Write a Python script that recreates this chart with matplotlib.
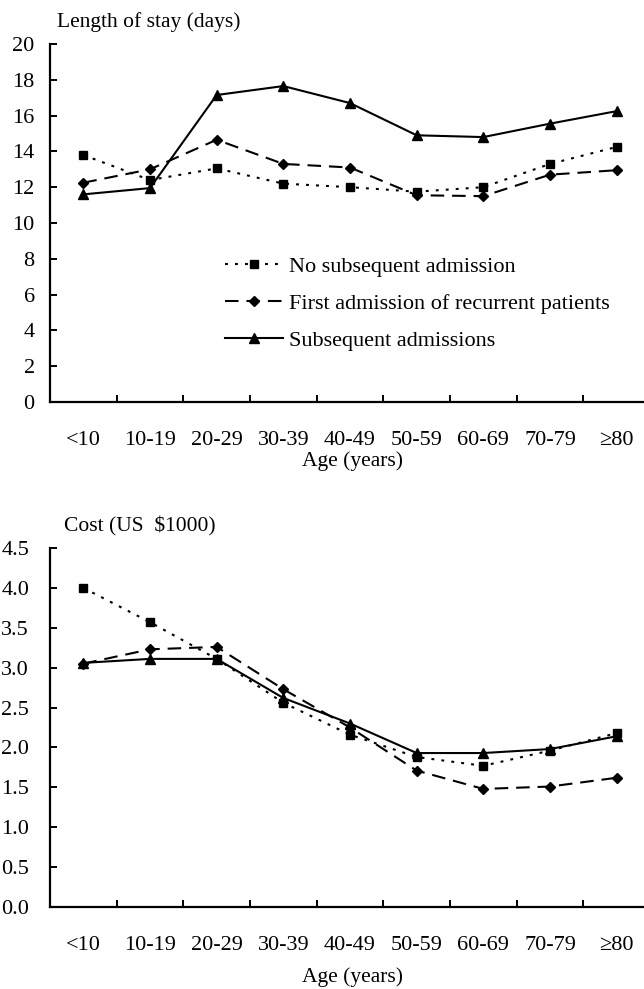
import matplotlib
matplotlib.use("Agg")
from matplotlib import pyplot as plt

plt.rcParams['font.family'] = ['Liberation Serif', 'DejaVu Serif']

ages = ["<10", "10-19", "20-29", "30-39", "40-49", "50-59", "60-69", "70-79", "\u226580"]
series_names = ["No subsequent admission",
                "First admission of recurrent patients",
                "Subsequent admissions"]

# length of stay (days)
stay_none = [13.8, 12.4, 13.05, 12.2, 12.0, 11.75, 12.0, 13.3, 14.25]
stay_first = [12.25, 13.0, 14.65, 13.3, 13.1, 11.55, 11.5, 12.7, 12.95]
stay_subseq = [11.6, 11.95, 17.15, 17.65, 16.7, 14.9, 14.8, 15.55, 16.25]

# cost (US $1000)
cost_none = [4.0, 3.57, 3.11, 2.56, 2.16, 1.88, 1.77, 1.96, 2.18]
cost_first = [3.05, 3.23, 3.26, 2.73, 2.25, 1.71, 1.48, 1.51, 1.62]
cost_subseq = [3.06, 3.11, 3.11, 2.62, 2.30, 1.93, 1.93, 1.98, 2.14]

W, H = 644, 989
fig = plt.figure(figsize=(W / 100, H / 100), dpi=100)

styles = [
    dict(linestyle=(0, (1.4, 3.4)), marker="s", markersize=6),
    dict(linestyle=(0, (6.5, 3.8)), marker="D", markersize=5.5),
    dict(linestyle="-", marker="^", markersize=7),
]


def make_axes(top_px, bottom_px):
    ax = fig.add_axes([50 / W, 1 - bottom_px / H, (W - 50) / W, (bottom_px - top_px) / H])
    for s in ["top", "right"]:
        ax.spines[s].set_visible(False)
    for s in ["left", "bottom"]:
        ax.spines[s].set_linewidth(1.6)
    ax.set_xlim(-0.5, 8.41)
    x = range(len(ages))
    # tick marks between categories, labels at the categories
    ax.set_xticks([i + 0.5 for i in range(len(ages) - 1)])
    ax.set_xticklabels([])
    ax.set_xticks(list(x), minor=True)
    ax.set_xticklabels(ages, minor=True, fontsize=16)
    ax.tick_params(axis="x", which="major", direction="in", length=5, width=1.4)
    ax.tick_params(axis="x", which="minor", length=0, pad=21)
    ax.tick_params(axis="y", direction="in", length=5, width=1.4, labelsize=16)
    return ax, list(x)


# top: length of stay
ax1, x = make_axes(44, 402)
for vals, st, name in zip([stay_none, stay_first, stay_subseq], styles, series_names):
    ax1.plot(x, vals, color="black", linewidth=1.5, label=name, **st)
ax1.set_ylim(0, 20)
ax1.set_yticks(range(0, 21, 2))
ax1.tick_params(axis="y", pad=11)
fig.text(57 / W, 1 - 22 / H, "Length of stay (days)", fontsize=15.5, va="center", ha="left")
fig.text(352 / W, 1 - 461 / H, "Age (years)", fontsize=15.5, va="center", ha="center")

ax1.legend(loc="upper left", bbox_to_anchor=(225 / W, 1 - 256 / H),
           bbox_transform=fig.transFigure, frameon=False, fontsize=16,
           handlelength=2.6, handletextpad=0.3, labelspacing=0.74,
           borderpad=0, borderaxespad=0, numpoints=1)

# bottom: cost
ax2, x = make_axes(548, 907)
for vals, st, name in zip([cost_none, cost_first, cost_subseq], styles, series_names):
    ax2.plot(x, vals, color="black", linewidth=1.5, label=name, **st)
ax2.set_ylim(0, 4.5)
ax2.set_yticks([i * 0.5 for i in range(10)])
ax2.set_yticklabels(["%.1f" % (i * 0.5) for i in range(10)])
ax2.tick_params(axis="y", pad=15)
fig.text(64 / W, 1 - 526 / H, "Cost (US  $1000)", fontsize=15.5, va="center", ha="left")
fig.text(352 / W, 1 - 977 / H, "Age (years)", fontsize=15.5, va="center", ha="center")

fig.savefig("out.png", dpi=100)
